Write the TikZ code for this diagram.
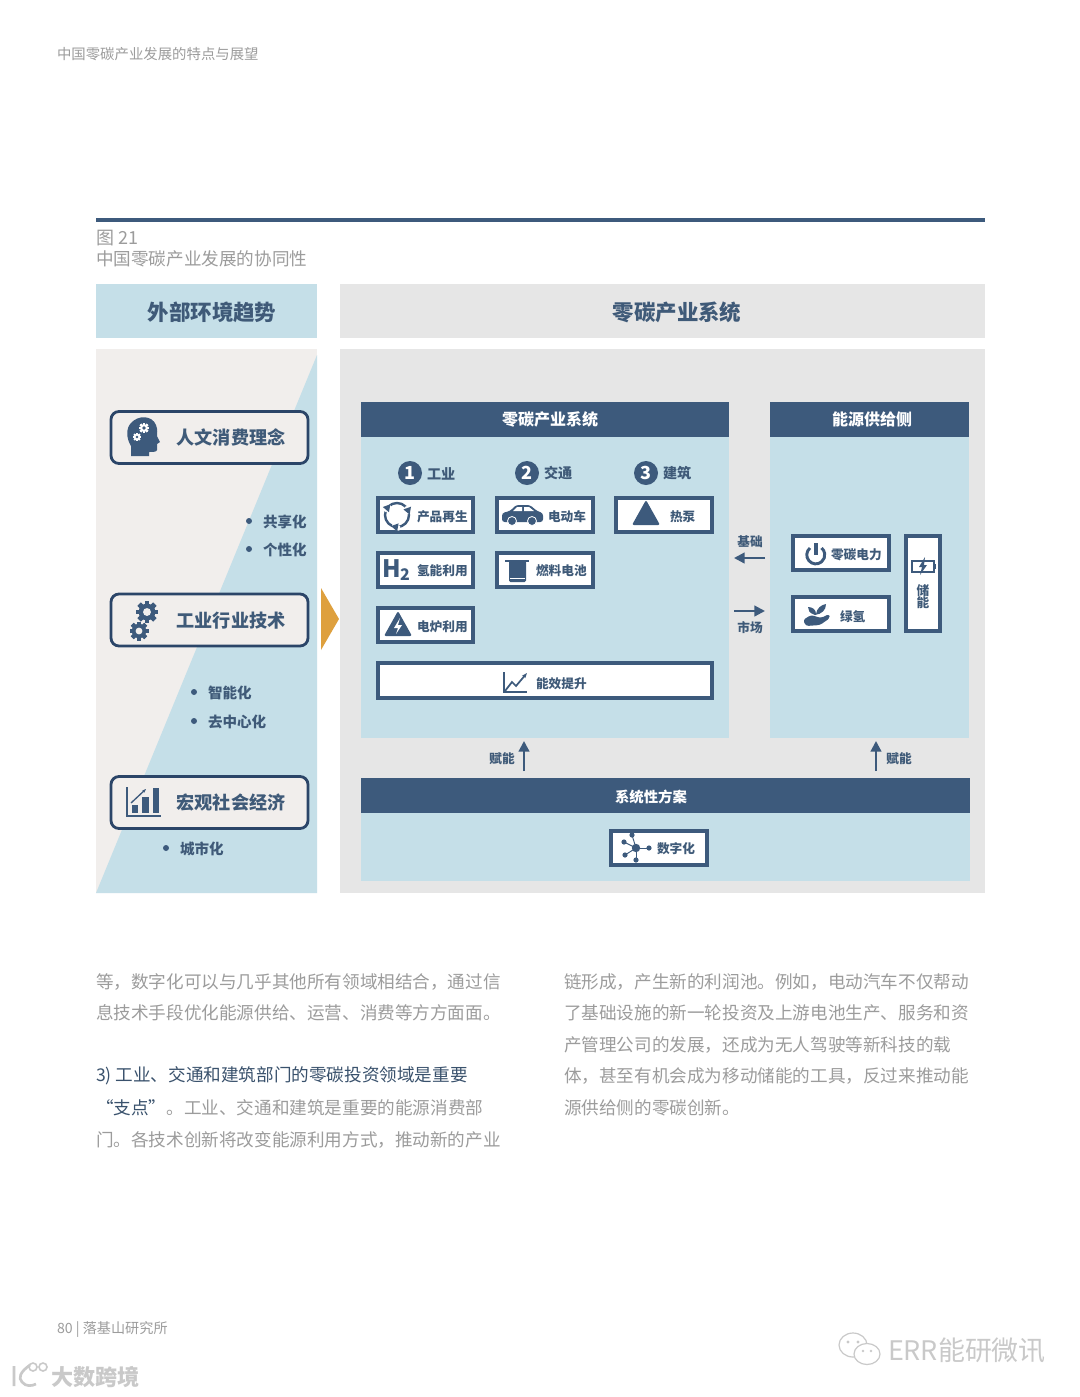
\documentclass[tikz,border=0pt]{standalone}
\usepackage{fontspec}
\setmainfont{Noto Sans CJK SC}
\usetikzlibrary{arrows.meta}
\definecolor{navy}{HTML}{3D5A7C}
\definecolor{edge}{HTML}{2B4568}
\definecolor{ink}{HTML}{3F5A78}
\definecolor{pale}{HTML}{C5DFE8}
\definecolor{greyp}{HTML}{E6E6E6}
\definecolor{warm}{HTML}{F1EEEC}
\definecolor{gold}{HTML}{DEA03E}
\definecolor{bodyg}{HTML}{9C9C9C}
\definecolor{wm}{HTML}{C9C9C9}
\tikzset{
  panel/.style={rectangle,inner sep=0pt,outer sep=0pt,anchor=north west},
  headbar/.style={panel,fill=navy},
  wbox/.style={panel,draw=navy,line width=2.3pt,fill=white},
  rbox/.style={panel,draw=edge,line width=2.1pt,fill=warm,rounded corners=6pt},
  t/.style={inner sep=0pt,outer sep=0pt,text=ink,font=\fontsize{#1}{#1}\bfseries\selectfont},
  ht/.style={inner sep=0pt,outer sep=0pt,text=white,font=\fontsize{#1}{#1}\bfseries\selectfont},
  g/.style={inner sep=0pt,outer sep=0pt,anchor=west,text=bodyg,font=\fontsize{#1}{#1}\selectfont},
  flow/.style={draw=navy,line width=1.7pt,-{Triangle[length=8pt,width=8pt]}},
  il/.style={draw=navy,fill=none,line width=1.3pt}
}
% \bx{style}{name}{x1}{y1}{x2}{y2}: box by its corners, in pixels
\newcommand\bx[6]{\node[#1,minimum width={(#5-#3)*0.75pt},minimum height={(#6-#4)*0.75pt}] (#2) at (#3,#4) {};}
% \gearicon{x}{y}{r}{body}{hole}
\newcommand\gearicon[5]{%
  \foreach \a in {0,45,...,315}{\fill[#4,rotate around={\a:(#1,#2)}] (#1-#3*0.22,#2-#3) rectangle (#1+#3*0.22,#2+#3);}
  \fill[#4] (#1,#2) circle[radius=#3*0.76];
  \fill[#5] (#1,#2) circle[radius=#3*0.36];}
\newcommand\trig[2]{\fill[navy,rounded corners=1.5pt] (#1,#2-14) -- (#1+14,#2+11) -- (#1-14,#2+11) -- cycle;}
\begin{document}
\begin{tikzpicture}[x=0.75pt,y=-0.75pt]
\useasboundingbox (0,0) rectangle (1080,1397);
\fill[white] (0,0) rectangle (1080,1397);

% page head
\node[g=10.8] (pagehead) at (57,54) {中国零碳产业发展的特点与展望};
\coordinate (ruleL) at (96,220); \coordinate (ruleR) at (985,220);
\draw[navy,line width=2.6pt] (ruleL) -- (ruleR);
\node[g=13.5] (figno) at (96,238) {图 21};
\node[g=13.2] (figtitle) at (96,259) {中国零碳产业发展的协同性};

% headers
\bx{panel,fill=pale}{hL}{96}{284}{317}{338}
\bx{panel,fill=greyp}{hR}{340}{284}{985}{338}
\node[t=16.1] (hLt) at (212,312.5) {外部环境趋势};
\node[t=16.1] (hRt) at (677,312.5) {零碳产业系统};

% left panel
\bx{panel,fill=warm}{pL}{96}{349}{317}{893}
\fill[pale] (317,355) -- (317,893) -- (96,893) -- cycle;
\bx{panel,fill=greyp}{pR}{340}{349}{985}{893}
\fill[gold] (321,588) -- (339,619) -- (321,650) -- cycle;

\bx{rbox}{b1}{111}{411.5}{308}{463.5}
\bx{rbox}{b2}{111}{594}{308}{646}
\bx{rbox}{b3}{111}{776.5}{308}{828.5}
\node[t=13.6] (b1t) at (231,437.5) {人文消费理念};
\node[t=13.6] (b2t) at (231,620.5) {工业行业技术};
\node[t=13.6] (b3t) at (231,802.5) {宏观社会经济};

% head icon
\fill[navy] (131,456) -- (131,446) .. controls (126,438) and (126,428) .. (131,423) .. controls (138,415) and (152,415) .. (156,425) .. controls (158,430) and (157,434) .. (157,436) -- (160,442) -- (157,444) -- (157,450) .. controls (157,452) and (152,452) .. (149,452) -- (149,456) -- cycle;
\gearicon{144}{428}{5}{white}{navy}
\gearicon{137}{437}{4}{white}{navy}
% gears icon
\gearicon{147}{612}{11}{navy}{warm}
\gearicon{139}{631}{9.5}{navy}{warm}
% chart icon
\fill[navy] (126,787) rectangle (128,817);
\fill[navy] (126,815) rectangle (161,817);
\fill[navy] (132,805) rectangle (138,813);
\fill[navy] (142,797) rectangle (149,813);
\fill[navy] (153,788) rectangle (159,813);
\draw[navy,line width=1pt,-{Stealth[length=3pt]}] (131,803) -- (146,789);

% bullets
\foreach \n/\x/\y/\s in {d1/249/521/共享化,d2/249/549/个性化,d3/194/692/智能化,d4/194/721/去中心化,d5/166/848/城市化}{
  \fill[navy] (\x,\y) circle[radius=3];
  \node[t=10.9,anchor=west] (\n) at (\x+14,\y+.5) {\s};
}

% system panels
\bx{panel,fill=pale}{p1}{361}{402}{729}{738}
\bx{panel,fill=pale}{p2}{770}{402}{969}{738}
\bx{panel,fill=pale}{p3}{361}{778}{970}{881}
\bx{headbar}{h1}{361}{402}{729}{437}
\bx{headbar}{h2}{770}{402}{969}{437}
\bx{headbar}{h3}{361}{778}{970}{813}
\node[ht=12] (h1t) at (550,419.5) {零碳产业系统};
\node[ht=12] (h2t) at (872,419.5) {能源供给侧};
\node[ht=10.8] (h3t) at (651,796.5) {系统性方案};

% sector titles
\foreach \n/\x/\d/\s in {c1/410/1/工业,c2/527/2/交通,c3/646/3/建筑}{
  \node[circle,fill=navy,text=white,minimum size=18pt,inner sep=0pt,font=\fontsize{13.5}{14}\bfseries\selectfont] (\n) at (\x,473) {\d};
  \node[t=10.6,anchor=west] (\n t) at (\x+17,473.5) {\s};
}

% white boxes
\bx{wbox}{w1}{378}{498}{473}{532}
\bx{wbox}{w2}{378}{553}{473}{587}
\bx{wbox}{w3}{378}{608}{473}{642}
\bx{wbox}{w4}{497}{498}{593}{532}
\bx{wbox}{w5}{497}{553}{593}{587}
\bx{wbox}{w6}{616}{498}{712}{532}
\bx{wbox}{w7}{378}{663}{712}{698}
\bx{wbox}{e1}{793}{536}{889}{570}
\bx{wbox}{e2}{793}{597}{889}{631}
\bx{wbox}{e3}{906}{536}{940}{631}
\bx{wbox}{w8}{611}{831}{707}{865}

\node[t=9.5,anchor=west] (w1t) at (417,516.5) {产品再生};
\node[t=9.5,anchor=west] (w2t) at (417,570.5) {氢能利用};
\node[t=9.5,anchor=west] (w3t) at (417,626.5) {电炉利用};
\node[t=9.5,anchor=west] (w4t) at (548,516.5) {电动车};
\node[t=9.5,anchor=west] (w5t) at (536,570.5) {燃料电池};
\node[t=9.5,anchor=west] (w6t) at (670,516.5) {热泵};
\node[t=9.5,anchor=west] (w7t) at (536,683.5) {能效提升};
\node[t=9.5,anchor=west] (e1t) at (831,554.5) {零碳电力};
\node[t=9.5,anchor=west] (e2t) at (840,616.5) {绿氢};
\node[t=9.5] (e3a) at (923,591) {储};
\node[t=9.5] (e3b) at (923,603) {能};
\node[t=9.5,anchor=west] (w8t) at (657,848.5) {数字化};

% recycle icon
\draw[navy,line width=1.8pt] (397,515) circle[radius=12];
\foreach \a in {20,140,260}{\fill[white,rotate around={\a:(397,515)}] (407,510) rectangle (412,518);
  \fill[navy,rotate around={\a:(397,515)}] (405,512) -- (413,512) -- (409,519) -- cycle;}
% H2
\node[inner sep=0pt,text=navy,font=\fontsize{18}{18}\bfseries\selectfont] (h2a) at (392,569) {H};
\node[inner sep=0pt,text=navy,font=\fontsize{12}{12}\bfseries\selectfont] (h2b) at (405,575) {2};
% electric furnace triangle
\trig{398}{625}
\fill[white] (400,618) -- (394,628) -- (398,628) -- (396,634) -- (402,625) -- (398,625) -- cycle;
% car
\fill[navy,rounded corners=2pt] (502,522) -- (502,513) -- (510,511) -- (516,505) -- (530,505) -- (537,511) -- (543,513) -- (543,522) -- cycle;
\fill[white] (517,507) -- (522,507) -- (522,511) -- (513,511) -- cycle;
\fill[white] (524,507) -- (529,507) -- (534,511) -- (524,511) -- cycle;
\fill[navy,draw=white,line width=.6pt] (512,521) circle[radius=4.5];
\fill[navy,draw=white,line width=.6pt] (532,521) circle[radius=4.5];
% heat pump triangle
\trig{646}{514}
% fuel cell
\fill[navy,rounded corners=1pt] (509,561) rectangle (526,582);
\fill[navy] (505,560) rectangle (529,562);
\fill[white] (510,578) rectangle (525,578.8);
% trend icon
\draw[il] (504,672) -- (504,692) -- (527,692);
\draw[il,-{Stealth[length=4pt]}] (505,691) -- (512,682) -- (516,686) -- (527,673);
% power icon
\draw[navy,line width=2.2pt] (810,548) arc[start angle=230,end angle=-50,radius=9];
\draw[navy,line width=2.4pt] (816,543) -- (816,555);
% plant in hand
\fill[navy,rounded corners=2pt] (803,620) -- (811,615) -- (821,618) -- (829,614) -- (830,618) -- (820,625) -- (806,626) -- cycle;
\fill[navy] (815,615) .. controls (809,613) and (808,610) .. (808,607) .. controls (813,607) and (816,610) .. (816,614) .. controls (817,608) and (821,605) .. (826,604) .. controls (826,610) and (822,614) .. (815,615) -- cycle;
% battery
\draw[navy,line width=1pt] (912,561) rectangle (934,572);
\fill[navy] (934,564) rectangle (936,569);
\fill[navy] (925,557) -- (919,567) -- (922,567) -- (920,575) -- (927,565) -- (924,565) -- cycle;
% network icon
\foreach \px/\py in {624/842,632/835,649/848,625/855,636/860}{
  \draw[navy,line width=.7pt] (636,848) -- (\px,\py);
  \fill[navy] (\px,\py) circle[radius=2.6];}
\fill[navy] (636,848) circle[radius=4.2];

% connectors
\coordinate (baseA) at (765,558); \coordinate (baseB) at (734,558);
\coordinate (markA) at (734,611); \coordinate (markB) at (765,611);
\coordinate (empA) at (524,771); \coordinate (empB) at (524,741);
\coordinate (empC) at (876,771); \coordinate (empD) at (876,741);
\draw[flow] (baseA) -- (baseB);
\draw[flow] (markA) -- (markB);
\draw[flow] (empA) -- (empB);
\draw[flow] (empC) -- (empD);
\node[t=9.5] (lb1) at (750,541.5) {基础};
\node[t=9.5] (lb2) at (750,627.5) {市场};
\node[t=9.5] (lb3) at (502,758.5) {赋能};
\node[t=9.5] (lb4) at (899,758.5) {赋能};

% body text (U+FF0C full-width commas)
\node[g=13.2] (l1) at (96,982) {等^^^^ff0c数字化可以与几乎其他所有领域相结合^^^^ff0c通过信};
\node[g=13.2] (l2) at (96,1013) {息技术手段优化能源供给、运营、消费等方方面面。};
\node[g=13.2,text=ink!90!black] (l3) at (96,1076) {3) 工业、交通和建筑部门的零碳投资领域是重要};
\node[g=13.2] (l4) at (96,1108) {\textcolor{ink!90!black}{“支点”}。工业、交通和建筑是重要的能源消费部};
\node[g=13.2] (l5) at (96,1140) {门。各技术创新将改变能源利用方式^^^^ff0c推动新的产业};
\node[g=13.2] (r1) at (564,982) {链形成^^^^ff0c产生新的利润池。例如^^^^ff0c电动汽车不仅帮动};
\node[g=13.2] (r2) at (564,1013) {了基础设施的新一轮投资及上游电池生产、服务和资};
\node[g=13.2] (r3) at (564,1045) {产管理公司的发展^^^^ff0c还成为无人驾驶等新科技的载};
\node[g=13.2] (r4) at (564,1076) {体^^^^ff0c甚至有机会成为移动储能的工具^^^^ff0c反过来推动能};
\node[g=13.2] (r5) at (564,1108) {源供给侧的零碳创新。};

% footer
\node[g=10.6] (foot) at (57,1329.5) {80 | 落基山研究所};

% watermarks
\draw[wm,line width=.9pt] (853,1345) ellipse[x radius=14,y radius=12];
\draw[wm,line width=.9pt,fill=white] (867,1354) ellipse[x radius=13,y radius=10.5];
\fill[wm] (848,1342) circle[radius=1.6]; \fill[wm] (858,1342) circle[radius=1.6];
\fill[wm] (863,1351) circle[radius=1.3]; \fill[wm] (871,1351) circle[radius=1.3];
\node[g=20.2,text=wm] (wm1) at (888,1350) {ERR能研微讯};
\draw[wm,line width=2pt] (14,1366) -- (14,1386) (30,1365) .. controls (20,1372) and (18,1378) .. (22,1382) .. controls (26,1387) and (32,1386) .. (36,1384);
\draw[wm,line width=1.2pt] (33,1367) circle[radius=4] (43,1367) circle[radius=4];
\node[g=16.6,text=wm,font=\fontsize{16.6}{17}\bfseries\selectfont] (wm2) at (51,1377) {大数跨境};
\end{tikzpicture}
\end{document}
